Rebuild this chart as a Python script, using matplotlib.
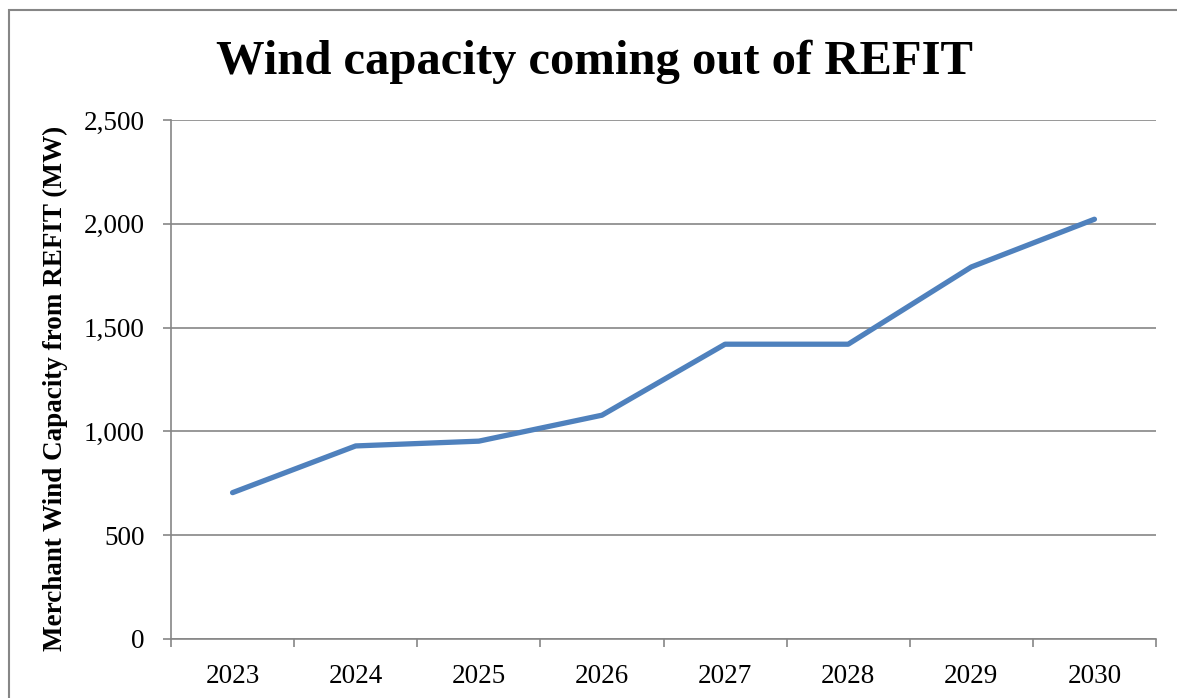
import matplotlib as mpl
mpl.use('Agg')
import matplotlib.pyplot as plt
from matplotlib.patches import Rectangle
from matplotlib.ticker import FuncFormatter
import numpy as np

years = ['2023', '2024', '2025', '2026', '2027', '2028', '2029', '2030']
capacity_mw = [705, 930, 953, 1078, 1420, 1420, 1792, 2022]
y_ticks = [0, 500, 1000, 1500, 2000, 2500]

plt.rcParams['font.family'] = ['Liberation Serif']
grey = '#868686'
blue = '#4F81BD'

fig = plt.figure(figsize=(11.77, 6.98), dpi=100)
# plot area in pixels: left 171, right 1156, top 120, bottom 639
W, H = 1177.0, 698.0
ax = fig.add_axes([171 / W, 1 - 639 / H, (1156 - 171) / W, (639 - 120) / H])

# outer chart border (right and bottom edges run off the image)
fig.patches.append(Rectangle((9 / W, -0.05), 1.1, 1 - 10 / H + 0.05,
                             transform=fig.transFigure, fill=False,
                             edgecolor=grey, linewidth=1.5))

x = np.arange(len(years))
ax.plot(x, capacity_mw, color=blue, linewidth=3.8, solid_capstyle='round',
        solid_joinstyle='round', zorder=3)

ax.set_xlim(-0.5, len(years) - 0.5)
ax.set_ylim(0, 2500)
ax.set_yticks(y_ticks)
ax.yaxis.set_major_formatter(FuncFormatter(lambda v, p: '{:,.0f}'.format(v)))
ax.set_xticks(x)
ax.set_xticklabels(years)
ax.set_xticks(np.arange(-0.5, len(years)), minor=True)

ax.grid(axis='y', color=grey, linewidth=1.2, zorder=1)
for s in ['top', 'right']:
    ax.spines[s].set_visible(False)
for s in ['left', 'bottom']:
    ax.spines[s].set_color(grey)
    ax.spines[s].set_linewidth(1.2)

ax.tick_params(axis='y', which='major', length=5.8, width=1.2, color=grey,
               labelsize=19.5, pad=13)
ax.tick_params(axis='x', which='major', length=0, labelsize=19.5, pad=18)
ax.tick_params(axis='x', which='minor', length=5.8, width=1.2, color=grey)

fig.text(594 / W, 1 - 62 / H, 'Wind capacity coming out of REFIT',
         ha='center', va='center', fontsize=35, fontweight='bold')
fig.text(55 / W, 1 - 388 / H, 'Merchant Wind Capacity from REFIT (MW)',
         ha='center', va='center', rotation=90, fontsize=19.5, fontweight='bold')

fig.savefig('out.png', dpi=100)
